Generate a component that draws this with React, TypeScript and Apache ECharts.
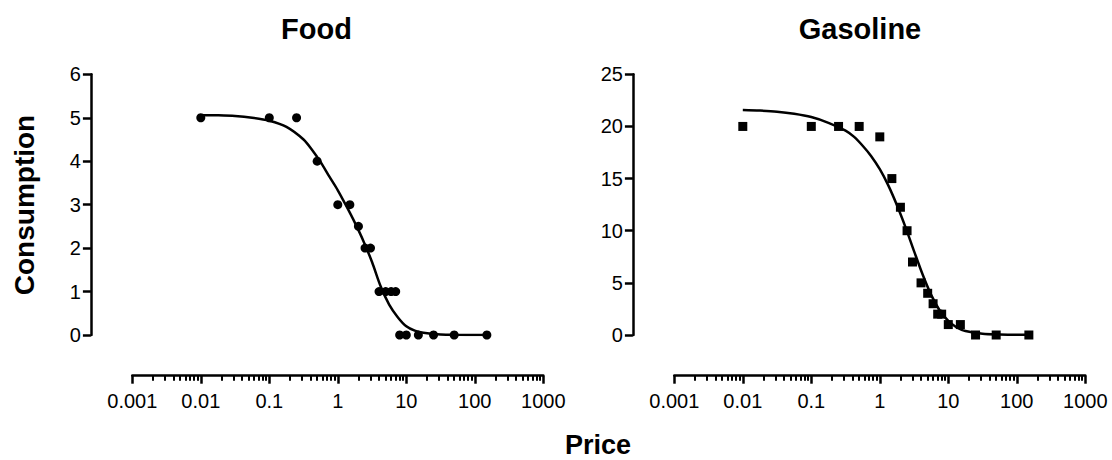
import React, { useEffect, useRef } from "react";
import * as echarts from "echarts";

// Observed data (price vs consumption)
const prices = [0.01, 0.1, 0.25, 0.5, 1, 1.5, 2, 2.5, 3, 4, 5, 6, 7, 8, 10, 15, 25, 50, 150];
const foodConsumption = [5, 5, 5, 4, 3, 3, 2.5, 2, 2, 1, 1, 1, 1, 0, 0, 0, 0, 0, 0];
const gasolineConsumption = [20, 20, 20, 20, 19, 15, 12.25, 10, 7, 5, 4, 3, 2, 2, 1, 1, 0, 0, 0];

// Fitted curves
const curvePrice = [0.01, 0.0178, 0.0316, 0.0562, 0.1, 0.178, 0.316, 0.422, 0.562, 0.75, 1, 1.33, 1.78, 2.37, 3.16, 4.22, 5.62, 7.5, 10, 13.3, 17.8, 31.6, 56.2, 100, 150];
const foodCurveValue = [5.06, 5.055, 5.04, 5.0, 4.93, 4.79, 4.5, 4.26, 3.98, 3.65, 3.33, 2.97, 2.58, 2.16, 1.68, 1.12, 0.7, 0.41, 0.2, 0.1, 0.05, 0.013, 0.004, 0.001, 0];
const gasCurveValue = [21.57, 21.52, 21.42, 21.22, 20.9, 20.35, 19.6, 19.0, 18.15, 17.15, 15.9, 14.35, 12.45, 10.35, 8.05, 5.8, 3.85, 2.35, 1.35, 0.72, 0.38, 0.12, 0.05, 0.03, 0.03];

// Axes
const xTickLabels = ["0.001", "0.01", "0.1", "1", "10", "100", "1000"];
const xMinorMultipliers = [2, 3, 4, 5, 6, 7, 8, 9];
const panelTitles = ["Food", "Gasoline"];
const yMax = [6, 25];
const yInterval = [1, 5];
const yAxisTitle = "Consumption";
const xAxisTitle = "Price";

const FONT = "'Liberation Sans', Arial, Helvetica, sans-serif";

export default function App() {
  const ref = useRef<HTMLDivElement>(null);

  useEffect(() => {
    if (!ref.current) return;
    const chart = echarts.init(ref.current, undefined, { renderer: "svg" });

    const majorTicks = xTickLabels.map((s) => parseFloat(s));
    const minorTicks: number[] = [];
    for (let d = 0; d < majorTicks.length - 1; d++) {
      for (const m of xMinorMultipliers) minorTicks.push(Number((majorTicks[d] * m).toPrecision(6)));
    }

    const gridLefts = [132.3, 674.3];
    const gridWidth = 411;
    const grids = gridLefts.map((l) => ({ left: l, width: gridWidth, top: 74.3, height: 260.7 }));

    const xAxes: any[] = [];
    const yAxes: any[] = [];
    grids.forEach((_, i) => {
      xAxes.push({
        type: "log",
        logBase: 10,
        gridIndex: i,
        min: 0.001,
        max: 1000,
        position: "bottom",
        offset: 40.7,
        axisLine: { show: true, onZero: false, lineStyle: { color: "#000", width: 2.5 } },
        axisTick: { show: true, length: 8, inside: false, lineStyle: { color: "#000", width: 2.5 }, customValues: majorTicks },
        axisLabel: {
          show: true,
          customValues: majorTicks,
          margin: 15,
          color: "#000",
          fontSize: 20,
          fontFamily: FONT,
          formatter: (v: number) => String(Number(Number(v).toPrecision(6))),
        },
        splitLine: { show: false },
        minorTick: { show: false },
      });
      xAxes.push({
        type: "log",
        logBase: 10,
        gridIndex: i,
        min: 0.001,
        max: 1000,
        position: "bottom",
        offset: 40.7,
        axisLine: { show: false, onZero: false },
        axisTick: { show: true, length: 5, inside: false, lineStyle: { color: "#000", width: 2 }, customValues: minorTicks },
        axisLabel: { show: false },
        splitLine: { show: false },
      });
      yAxes.push({
        type: "value",
        gridIndex: i,
        min: 0,
        max: yMax[i],
        interval: yInterval[i],
        offset: 41.4,
        axisLine: { show: true, onZero: false, lineStyle: { color: "#000", width: 2.5 } },
        axisTick: { show: true, length: 8, inside: false, lineStyle: { color: "#000", width: 2.5 } },
        axisLabel: { margin: 10, color: "#000", fontSize: 20, fontFamily: FONT },
        splitLine: { show: false },
      });
    });

    const pair = (xs: number[], ys: number[]) => xs.map((x, k) => [x, ys[k]]);

    const series: any[] = [
      {
        type: "line",
        xAxisIndex: 0,
        yAxisIndex: 0,
        data: pair(curvePrice, foodCurveValue),
        smooth: 0.3,
        showSymbol: false,
        lineStyle: { color: "#000", width: 2.5 },
        z: 2,
      },
      {
        type: "scatter",
        xAxisIndex: 0,
        yAxisIndex: 0,
        data: pair(prices, foodConsumption),
        symbol: "circle",
        symbolSize: 9,
        itemStyle: { color: "#000", opacity: 1 },
        z: 3,
      },
      {
        type: "line",
        xAxisIndex: 2,
        yAxisIndex: 1,
        data: pair(curvePrice, gasCurveValue),
        smooth: 0.3,
        showSymbol: false,
        lineStyle: { color: "#000", width: 2.5 },
        z: 2,
      },
      {
        type: "scatter",
        xAxisIndex: 2,
        yAxisIndex: 1,
        data: pair(prices, gasolineConsumption),
        symbol: "rect",
        symbolSize: 9,
        itemStyle: { color: "#000", opacity: 1 },
        z: 3,
      },
    ];

    const titleX = [316.5, 860];
    const graphic: any[] = [
      ...panelTitles.map((t, i) => ({
        type: "text",
        x: titleX[i],
        y: 29,
        style: { text: t, fill: "#000", font: `bold 29px ${FONT}`, textAlign: "center", textVerticalAlign: "middle" },
      })),
      {
        type: "text",
        x: 24,
        y: 205,
        rotation: Math.PI / 2,
        style: { text: yAxisTitle, fill: "#000", font: `bold 28px ${FONT}`, textAlign: "center", textVerticalAlign: "middle" },
      },
      {
        type: "text",
        x: 598,
        y: 445,
        style: { text: xAxisTitle, fill: "#000", font: `bold 27px ${FONT}`, textAlign: "center", textVerticalAlign: "middle" },
      },
    ];

    chart.setOption({
      animation: false,
      backgroundColor: "#fff",
      grid: grids,
      xAxis: xAxes,
      yAxis: yAxes,
      series,
      graphic,
    });

    return () => chart.dispose();
  }, []);

  return (
    <div
      ref={ref}
      style={{ position: "fixed", left: 0, top: 0, width: 1112, height: 460, background: "#fff" }}
    />
  );
}
